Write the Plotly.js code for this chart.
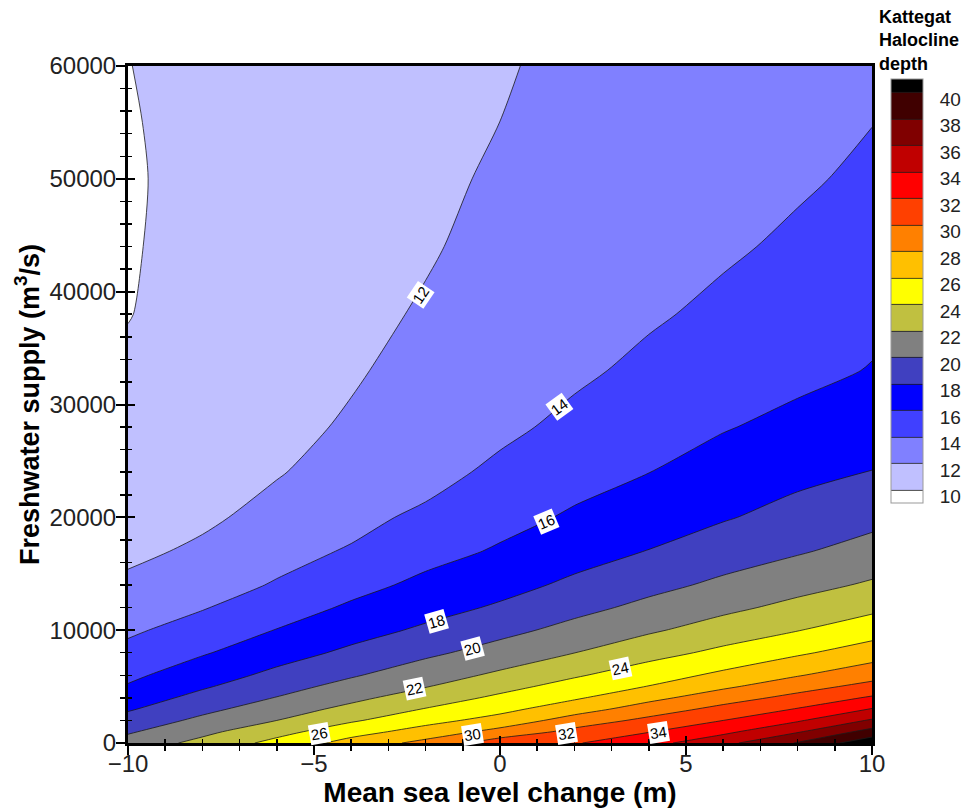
<!DOCTYPE html>
<html>
<head>
<meta charset="utf-8">
<script src="https://cdn.plot.ly/plotly-3.0.1.min.js"></script>
<style>
  html, body { margin: 0; padding: 0; background: #ffffff; }
  #chart { width: 974px; height: 810px; }
</style>
</head>
<body>
<div id="chart"></div>
<script>
// ---- Data ----
// Mean sea level change (m) – grid columns
const seaLevel = [-10, -8, -6, -4, -2, 0, 2, 4, 6, 8, 10];
// Freshwater supply (m3/s) – grid rows
const freshwater = [0, 1000, 2000, 3000, 4000, 5000, 6000, 8000, 10000, 12000, 14000,
                    17000, 20000, 24000, 28000, 33000, 38000, 44000, 50000, 55000, 60000];
// Halocline depth estimated at each grid node (rows follow freshwater, columns follow seaLevel)
const depthRows = [
  [20.8, 22.57, 24.6, 26.75, 28.58, 31.1, 31.84, 33.31, 35.43, 38.14, 41.41],
  [19.77, 21.51, 23.33, 25.22, 26.82, 28.66, 30.57, 31.91, 33.52, 35.81, 38.75],
  [18.76, 20.46, 22.0, 23.75, 25.34, 26.76, 28.87, 30.50, 32.0, 33.77, 36.24],
  [17.80, 19.49, 21.04, 22.54, 24.10, 25.43, 27.13, 28.96, 30.60, 32.12, 34.11],
  [16.98, 18.60, 20.08, 21.52, 22.99, 24.39, 25.75, 27.45, 29.12, 30.62, 32.26],
  [16.16, 17.78, 19.27, 20.65, 21.92, 23.37, 24.76, 26.07, 27.67, 29.21, 30.65],
  [15.58, 17.11, 18.48, 19.81, 21.12, 22.36, 23.78, 25.09, 26.44, 27.88, 29.28],
  [14.53, 15.82, 17.20, 18.39, 19.60, 20.78, 21.98, 23.29, 24.47, 25.70, 27.0],
  [13.69, 14.81, 16.06, 17.27, 18.31, 19.43, 20.61, 21.73, 22.89, 23.93, 25.11],
  [13.06, 13.88, 15.10, 16.27, 17.32, 18.24, 19.42, 20.50, 21.54, 22.55, 23.55],
  [12.44, 13.28, 14.14, 15.40, 16.44, 17.37, 18.37, 19.44, 20.4, 21.35, 22.26],
  [11.5, 12.39, 13.4, 14.16, 15.35, 16.20, 17.23, 18.05, 19.02, 19.81, 20.7],
  [11.3, 11.6, 12.73, 13.45, 14.39, 15.41, 16.23, 17.15, 17.84, 18.68, 19.44],
  [11.0, 11.4, 11.85, 12.94, 13.25, 14.47, 15.35, 15.98, 16.81, 17.48, 18.04],
  [10.7, 11.2, 11.53, 12.2, 12.95, 13.5, 14.57, 15.33, 15.88, 16.52, 17.16],
  [10.35, 11.05, 11.3, 11.82, 12.55, 13.2, 13.59, 14.52, 15.19, 15.5, 16.09],
  [9.93, 10.9, 11.15, 11.47, 12.2, 12.95, 13.35, 13.71, 14.50, 15.09, 15.56],
  [9.8, 10.78, 11.05, 11.35, 11.8, 12.6, 13.1, 13.45, 13.67, 14.40, 14.99],
  [9.74, 10.7, 11.0, 11.25, 11.5, 12.3, 12.95, 13.2, 13.45, 13.7, 14.42],
  [9.82, 10.75, 10.95, 11.2, 11.4, 12.005, 12.88, 13.0, 13.3, 13.55, 13.96],
  [9.95, 10.8, 10.95, 11.15, 11.3, 11.7, 12.8, 12.85, 13.15, 13.4, 13.63]
];
// Legend levels
const legendLabels = ['10','12','14','16','18','20','22','24','26','28','30','32','34','36','38','40'];
// Contour line labels
const lineLabelText = ['12','14','16','18','20','22','24','26','30','32','34'];
const lineLabelSea  = [-2.15, 1.61, 1.26, -1.72, -0.73, -2.29, 3.23, -4.84, -0.73, 1.78, 4.25];
const lineLabelFresh = [39700, 29800, 19600, 10800, 8400, 4850, 6600, 800, 750, 850, 950];

// ---- Styles ----
const bandColors = ['#ffffff','#c0c0ff','#8080ff','#4040ff','#0000ff','#4040c0','#808080','#c0c040',
  '#ffff00','#ffc000','#ff8000','#ff4000','#ff0000','#c00000','#800000','#400000','#000000'];
const colorscale = bandColors.map((c, i) => [i / (bandColors.length - 1), c]);
const lineLabelAngle = [-56, -36, -23, -16, -15, -12, -12, -10, -9, -9, -9];
const FONT = 'Liberation Sans, Arial, Helvetica, sans-serif';

const L = 128, R = 872, T = 66, B = 743, W = 974, H = 810;
const pw = R - L, ph = B - T;
const px2fx = p => (p - L) / pw;
const py2fy = p => (B - p) / ph;

const trace = {
  type: 'contour',
  x: seaLevel,
  y: freshwater,
  z: depthRows,
  autocontour: false,
  contours: { start: 10, end: 40, size: 2, coloring: 'fill', showlines: true },
  line: { color: '#1a1a1a', width: 0.8, smoothing: 0.8 },
  colorscale: colorscale,
  hoverinfo: 'skip',
  colorbar: {
    x: px2fx(891), xref: 'paper', xanchor: 'left', xpad: 0,
    y: py2fy(291), yref: 'paper', yanchor: 'middle', ypad: 0,
    len: 424 / ph, lenmode: 'fraction',
    thickness: 32, thicknessmode: 'pixels',
    outlinewidth: 1, outlinecolor: '#999999',
    tickvals: legendLabels.map(v => Number(v) - 0.5),
    ticktext: legendLabels,
    ticks: 'outside', ticklen: 13, tickcolor: 'rgba(0,0,0,0)',
    tickfont: { family: FONT, size: 19, color: '#222222' }
  }
};

const overlayX = { type: 'scatter', x: [], y: [], xaxis: 'x2', yaxis: 'y', showlegend: false, hoverinfo: 'skip' };
const overlayY = { type: 'scatter', x: [], y: [], xaxis: 'x', yaxis: 'y2', showlegend: false, hoverinfo: 'skip' };

const annotations = lineLabelText.map((t, i) => ({
  xref: 'x', yref: 'y', x: lineLabelSea[i], y: lineLabelFresh[i],
  text: t, showarrow: false, textangle: lineLabelAngle[i],
  bgcolor: '#ffffff', borderpad: 1,
  font: { family: FONT, size: 15, color: '#000000' }
}));
annotations.push({
  xref: 'paper', yref: 'paper', x: px2fx(877), y: py2fy(5),
  xanchor: 'left', yanchor: 'top', align: 'left', showarrow: false,
  text: '<b>Kattegat<br>Halocline<br>depth</b>',
  font: { family: FONT, size: 18, color: '#000000' }
});

const layout = {
  width: W, height: H,
  margin: { l: L, r: W - R, t: T, b: H - B, pad: 0 },
  paper_bgcolor: '#ffffff', plot_bgcolor: '#ffffff',
  showlegend: false,
  font: { family: FONT, color: '#222222' },
  xaxis: {
    range: [-10, 10], tick0: -10, dtick: 5,
    ticks: 'outside', ticklen: 9, tickwidth: 2, tickcolor: '#000000',
    ticklabelstandoff: -12,
    minor: { dtick: 1, ticks: 'outside', ticklen: 5, tickwidth: 1.5, tickcolor: '#000000', showgrid: false },
    showline: true, linewidth: 3, linecolor: '#000000', mirror: true,
    showgrid: false, zeroline: false,
    tickfont: { family: FONT, size: 24, color: '#222222' },
    title: { text: '<b>Mean sea level change (m)</b>', font: { family: FONT, size: 28, color: '#000000' }, standoff: 6 }
  },
  xaxis2: {
    overlaying: 'x', matches: 'x', anchor: 'y', side: 'bottom',
    ticks: 'inside', ticklen: 7, tickwidth: 2, tickcolor: '#000000', dtick: 5, tick0: -10,
    minor: { dtick: 1, ticks: 'inside', ticklen: 4, tickwidth: 1.5, tickcolor: '#000000', showgrid: false },
    showticklabels: false, showline: false, showgrid: false, zeroline: false
  },
  yaxis: {
    range: [0, 60000], tick0: 0, dtick: 10000, tickformat: 'd',
    ticks: 'outside', ticklen: 9, tickwidth: 2, tickcolor: '#000000',
    ticklabelstandoff: -5,
    minor: { dtick: 2000, ticks: 'outside', ticklen: 5, tickwidth: 1.5, tickcolor: '#000000', showgrid: false },
    showline: true, linewidth: 3, linecolor: '#000000', mirror: true,
    showgrid: false, zeroline: false,
    tickfont: { family: FONT, size: 24, color: '#222222' },
    title: { text: '<b>Freshwater supply (m<sup>3</sup>/s)</b>', font: { family: FONT, size: 27, color: '#000000' }, standoff: 3 }
  },
  yaxis2: {
    overlaying: 'y', matches: 'y', anchor: 'x', side: 'left',
    ticks: 'inside', ticklen: 7, tickwidth: 2, tickcolor: '#000000', dtick: 10000, tick0: 0,
    minor: { dtick: 2000, ticks: 'inside', ticklen: 4, tickwidth: 1.5, tickcolor: '#000000', showgrid: false },
    showticklabels: false, showline: false, showgrid: false, zeroline: false
  },
  annotations: annotations
};

Plotly.newPlot('chart', [trace, overlayX, overlayY], layout, { staticPlot: true, displayModeBar: false });
</script>
</body>
</html>
